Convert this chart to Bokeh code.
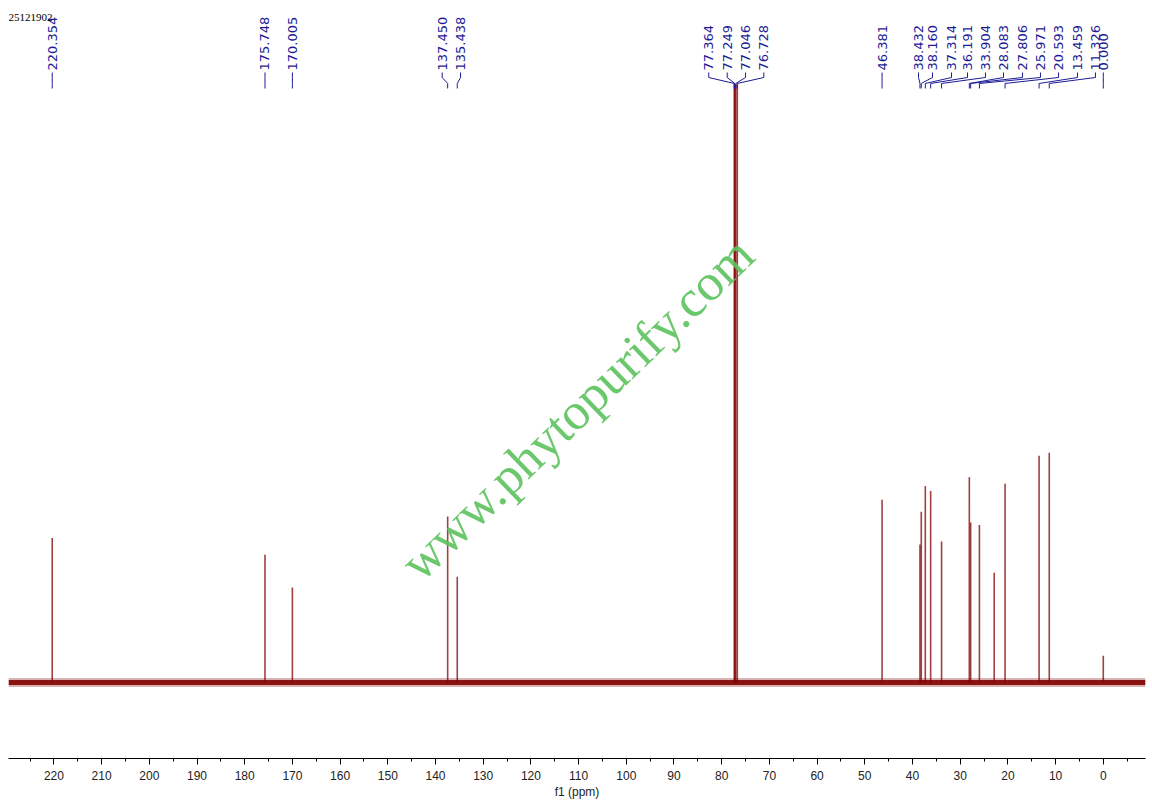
import math
from bokeh.plotting import figure
from bokeh.models import Range1d, SingleIntervalTicker, Label
from bokeh.embed import file_html
from bokeh.resources import INLINE
from bokeh.core.properties import value

# ---------------- data ----------------
spectrum_name = "25121902"
x_axis_title = "f1 (ppm)"
watermark_text = "www.phytopurify.com"

# chemical shifts (ppm) of all visible peaks and their heights (relative intensity)
peak_ppm = [220.354, 175.748, 170.005, 137.450, 135.438,
            77.364, 77.249, 77.046, 76.728,
            46.381, 38.432, 38.160, 37.314, 36.191, 33.904,
            28.083, 27.806, 25.971, 22.870, 20.593, 13.459, 11.326, 0.000]
peak_height = [24.2, 21.4, 15.9, 27.8, 17.7,
               100.2, 100.2, 100.2, 100.2,
               30.6, 23.1, 28.6, 32.9, 32.1, 23.6,
               34.4, 26.8, 26.4, 18.4, 33.3, 38.0, 38.5, 4.5]

# peaks carrying a shift label
label_ppm = [220.354, 175.748, 170.005, 137.450, 135.438,
             77.364, 77.249, 77.046, 76.728,
             46.381, 38.432, 38.160, 37.314, 36.191, 33.904,
             28.083, 27.806, 25.971, 20.593, 13.459, 11.326, 0.000]

# spectral window (ppm), left to right
ppm_left, ppm_right = 229.52, -8.85
tick_step = 10

# ---------------- layout (label placement, not data) ----------------
label_slot_ppm = [220.354, 175.748, 170.005, 138.60, 134.75,
                  82.72, 78.85, 75.01, 71.17,
                  46.381, 38.74, 35.81, 31.82, 28.47, 24.70,
                  20.92, 16.94, 13.17, 9.39, 5.41, 1.64, 0.000]
Y_MIN, Y_MAX = -12.73, 112.9
TXT_Y = 102.51
L1, L2, L3, L4 = 102.18, 101.34, 100.34, 99.5

SPEC = "#800000"
LBL = "#1c1c96"

p = figure(width=1148, height=803, output_backend="svg", toolbar_location=None,
           x_range=Range1d(ppm_left, ppm_right), y_range=Range1d(Y_MIN, Y_MAX),
           min_border_left=8, min_border_right=3, min_border_top=8, min_border_bottom=45)
p.outline_line_color = None
p.grid.visible = False
p.yaxis.visible = False
p.background_fill_color = "white"
p.border_fill_color = "white"

ax = p.xaxis[0]
ax.ticker = SingleIntervalTicker(interval=tick_step, num_minor_ticks=2)
ax.axis_label = x_axis_title
ax.axis_label_text_font = "Liberation Sans"
ax.axis_label_text_font_style = "normal"
ax.axis_label_text_font_size = "12px"
ax.axis_label_text_color = "#222222"
ax.axis_label_standoff = 2
ax.major_label_text_font = "Liberation Sans"
ax.major_label_text_font_size = "12px"
ax.major_label_text_color = "#222222"
ax.major_label_standoff = 6
ax.major_tick_in = 0
ax.major_tick_out = 6
ax.minor_tick_in = 0
ax.minor_tick_out = 3
ax.axis_line_color = "#000000"
ax.major_tick_line_color = "#000000"
ax.minor_tick_line_color = "#000000"

# watermark
p.add_layout(Label(x=(ppm_left + ppm_right) / 2, y=(Y_MIN + Y_MAX) / 2, y_offset=-25,
                   text=watermark_text, angle=math.radians(44), text_align="center",
                   text_baseline="middle", text_font="Liberation Serif",
                   text_font_size="52px", text_color="#5cc25c", text_alpha=0.9))

# baseline noise band
p.segment(x0=[ppm_left], y0=[0], x1=[ppm_right], y1=[0], line_color=SPEC,
          line_width=9, line_alpha=0.3)
p.segment(x0=[ppm_left], y0=[0], x1=[ppm_right], y1=[0], line_color=SPEC,
          line_width=5, line_alpha=0.9)

# peaks
p.segment(x0=peak_ppm, y0=[0] * len(peak_ppm), x1=peak_ppm, y1=peak_height,
          line_color=SPEC, line_width=1.6, line_alpha=0.75)

# label connectors
xs, ys = [], []
for pk, slot in zip(label_ppm, label_slot_ppm):
    xs.append([slot, slot, pk, pk])
    ys.append([L1, L2, L3, L4])
p.multi_line(xs=xs, ys=ys, line_color=LBL, line_width=1)

p.text(x=label_slot_ppm, y=[TXT_Y] * len(label_slot_ppm),
       text=[f"{v:.3f}" for v in label_ppm], angle=math.pi / 2,
       text_align="left", text_baseline="middle",
       text_font=value("DejaVu Sans"), text_font_size="13px", text_color=LBL)

# spectrum name
p.add_layout(Label(x=ppm_left, y=Y_MAX, y_offset=-9, text=spectrum_name,
                   text_align="left", text_baseline="middle",
                   text_font="Liberation Serif", text_font_size="11px",
                   text_color="#000000"))

open("out.html", "w").write(file_html(p, INLINE))
